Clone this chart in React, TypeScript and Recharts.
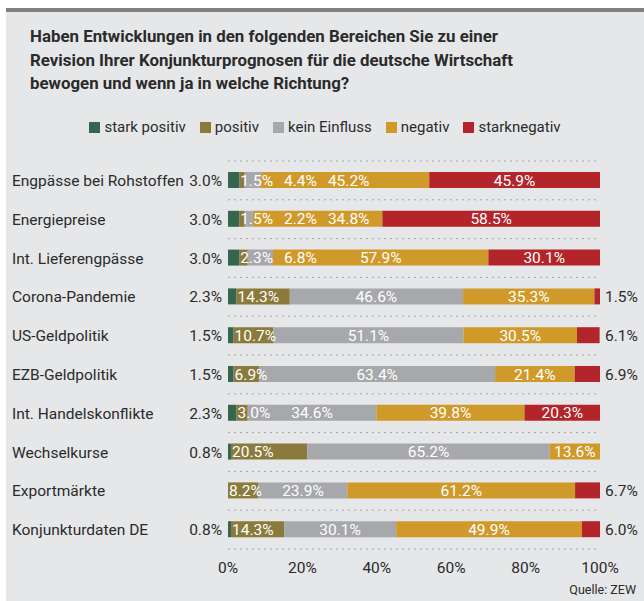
import React from "react";
import { BarChart, Bar, XAxis, YAxis, CartesianGrid, Legend } from "recharts";

// Kategorien und Anteile (in %)
const categories = [
  "Engpässe bei Rohstoffen",
  "Energiepreise",
  "Int. Lieferengpässe",
  "Corona-Pandemie",
  "US-Geldpolitik",
  "EZB-Geldpolitik",
  "Int. Handelskonflikte",
  "Wechselkurse",
  "Exportmärkte",
  "Konjunkturdaten DE",
];
const starkPositiv = [3.0, 3.0, 3.0, 2.3, 1.5, 1.5, 2.3, 0.8, 0, 0.8];
const positiv = [1.5, 1.5, 2.3, 14.3, 10.7, 6.9, 3.0, 20.5, 8.2, 14.3];
const keinEinfluss = [4.4, 2.2, 6.8, 46.6, 51.1, 63.4, 34.6, 65.2, 23.9, 30.1];
const negativ = [45.2, 34.8, 57.9, 35.3, 30.5, 21.4, 39.8, 13.6, 61.2, 49.9];
const starkNegativ = [45.9, 58.5, 30.1, 1.5, 6.1, 6.9, 20.3, 0, 6.7, 6.0];

const xTicks = [0, 20, 40, 60, 80, 100];

const titleLines = [
  "Haben Entwicklungen in den folgenden Bereichen Sie zu einer",
  "Revision Ihrer Konjunkturprognosen für die deutsche Wirtschaft",
  "bewogen und wenn ja in welche Richtung?",
];

const seriesKeys = ["sp", "p", "k", "n", "sn"];
const seriesNames = ["stark positiv", "positiv", "kein Einfluss", "negativ", "starknegativ"];
const seriesColors = ["#35664f", "#8a7a3b", "#a7a8ab", "#d09a2b", "#b3252b"];

const data = categories.map((name, i) => ({
  name,
  sp: starkPositiv[i],
  p: positiv[i],
  k: keinEinfluss[i],
  n: negativ[i],
  sn: starkNegativ[i],
}));

const FONT = "Roboto, sans-serif";
const TEXT = "#2b2b2b";
const LABEL_SIZE = 15.5;
const SMALL_RED = 10; // darunter steht "stark negativ" rechts neben dem Balken

let ctx: CanvasRenderingContext2D | null = null;
const measure = (s: string, font: string) => {
  if (!ctx) ctx = document.createElement("canvas").getContext("2d");
  if (!ctx) return s.length * 8.5;
  ctx.font = font;
  return ctx.measureText(s).width;
};
const textWidth = (s: string) => measure(s, `${LABEL_SIZE}px Roboto`);

const fmt = (v: number) => `${v.toFixed(1)}%`;

// Beschriftungen innerhalb einer Zeile: zentriert, nach rechts geschoben wenn sie sich überlappen
const layoutRow = (row: any, x0: number, ppu: number) => {
  const out: (number | null)[] = [];
  let cum = 0;
  let prevRight = -Infinity;
  seriesKeys.forEach((k, i) => {
    const v = row[k] as number;
    const outside = i === 0 || (i === 4 && v < SMALL_RED);
    if (!v || outside) {
      out.push(null);
      cum += v || 0;
      return;
    }
    const w = textWidth(fmt(v));
    let left;
    if (i === 1) {
      left = x0 + cum * ppu + 1;
    } else {
      const center = x0 + (cum + v / 2) * ppu;
      left = Math.max(center - w / 2, prevRight + 11);
    }
    prevRight = left + w;
    out.push(left);
    cum += v;
  });
  return out;
};

const makeLabelShape = (si: number) => (props: any) => {
  const { x, y, width, height, payload } = props;
  if (!payload) return <g />;
  const v = payload[seriesKeys[si]] as number;
  if (!v || !width) return <g />;
  const ppu = width / v;
  let before = 0;
  for (let i = 0; i < si; i++) before += payload[seriesKeys[i]] as number;
  const left = layoutRow(payload, x - before * ppu, ppu)[si];
  if (left == null) return <g />;
  return (
    <text x={left} y={y + height / 2} dy="0.36em" fill="#ffffff" fontSize={LABEL_SIZE} fontFamily={FONT}>
      {fmt(v)}
    </text>
  );
};

// linke Achse: Kategorie + Wert "stark positiv"
const CategoryTick = ({ x, y, payload }: any) => {
  const i = categories.indexOf(payload.value);
  const v = starkPositiv[i];
  return (
    <g>
      <text x={6} y={y} dy="0.36em" textAnchor="start" fill={TEXT} fontSize={15.5} fontFamily={FONT}>
        {payload.value}
      </text>
      {v > 0 && (
        <text x={x} y={y} dy="0.36em" textAnchor="end" fill={TEXT} fontSize={LABEL_SIZE} fontFamily={FONT}>
          {fmt(v)}
        </text>
      )}
    </g>
  );
};

// rechte Achse: kleine Werte "stark negativ"
const RightTick = ({ x, y, payload }: any) => {
  const i = categories.indexOf(payload.value);
  const v = starkNegativ[i];
  if (!v || v >= SMALL_RED) return <g />;
  return (
    <text x={x} y={y} dy="0.36em" textAnchor="start" fill={TEXT} fontSize={LABEL_SIZE} fontFamily={FONT}>
      {fmt(v)}
    </text>
  );
};

const LegendContent = () => (
  <div style={{ display: "flex", justifyContent: "center", gap: 14, fontFamily: FONT, fontSize: 15, color: TEXT }}>
    {seriesNames.map((n, i) => (
      <div key={n} style={{ display: "flex", alignItems: "center", gap: 4 }}>
        <span style={{ display: "inline-block", width: 11, height: 11, background: seriesColors[i] }} />
        <span>{n}</span>
      </div>
    ))}
  </div>
);

const Title = () => {
  const f = "700 17px Roboto";
  // Schrift schmaler ziehen, damit die ersten zwei Zeilen ~475px breit sind
  const scale = 951 / (measure(titleLines[0], f) + measure(titleLines[1], f));
  return (
    <div
      style={{
        position: "absolute",
        left: 24,
        top: 17,
        fontFamily: FONT,
        fontWeight: 700,
        fontSize: 17,
        lineHeight: "23.5px",
        color: TEXT,
        whiteSpace: "nowrap",
        transform: `scaleX(${scale})`,
        transformOrigin: "left top",
      }}
    >
      {titleLines.map((l) => (
        <div key={l}>{l}</div>
      ))}
    </div>
  );
};

export default function App() {
  return (
    <div style={{ position: "absolute", left: 6, top: 8, width: 638, height: 593, background: "#e6e7e9" }}>
      <div style={{ position: "absolute", left: 0, top: 0, width: 638, height: 4, background: "#808083" }} />
      <Title />
      <BarChart
        width={638}
        height={593}
        data={data}
        layout="vertical"
        margin={{ top: 153, right: 0, bottom: 22, left: 0 }}
        barSize={16}
      >
        <CartesianGrid
          vertical={false}
          stroke="#a3a4a6"
          strokeDasharray="2 4"
          horizontalCoordinatesGenerator={({ offset }: any) =>
            categories
              .map((_, i) => offset.top + (i * offset.height) / categories.length)
              .concat(offset.top + offset.height)
          }
        />
        <XAxis
          type="number"
          domain={[0, 100]}
          allowDataOverflow
          ticks={xTicks}
          tickFormatter={(v) => `${v}%`}
          axisLine={false}
          tickLine={false}
          tickSize={0}
          tickMargin={13}
          height={30}
          tick={{ fill: TEXT, fontSize: 15.5, fontFamily: FONT }}
        />
        <YAxis
          type="category"
          dataKey="name"
          width={222}
          axisLine={false}
          tickLine={false}
          tickSize={0}
          tickMargin={6}
          tick={<CategoryTick />}
        />
        <YAxis
          yAxisId="right"
          orientation="right"
          type="category"
          dataKey="name"
          width={44}
          axisLine={false}
          tickLine={false}
          tickSize={0}
          tickMargin={5}
          tick={<RightTick />}
        />
        <YAxis yAxisId="lbl" type="category" dataKey="name" hide width={0} />
        <Legend
          layout="horizontal"
          verticalAlign="middle"
          align="center"
          wrapperStyle={{ top: 110, left: 0, width: 638 }}
          content={<LegendContent />}
        />
        {seriesKeys.map((k, i) => (
          <Bar key={k} dataKey={k} name={seriesNames[i]} stackId="a" fill={seriesColors[i]} isAnimationActive={false} />
        ))}
        {seriesKeys.map((k, i) => (
          <Bar
            key={`lbl-${k}`}
            yAxisId="lbl"
            dataKey={k}
            stackId="lbl"
            fill="transparent"
            legendType="none"
            isAnimationActive={false}
            shape={makeLabelShape(i)}
          />
        ))}
      </BarChart>
      <div
        style={{
          position: "absolute",
          right: 8,
          top: 574,
          fontFamily: FONT,
          fontSize: 12.5,
          color: TEXT,
        }}
      >
        Quelle: ZEW
      </div>
    </div>
  );
}
